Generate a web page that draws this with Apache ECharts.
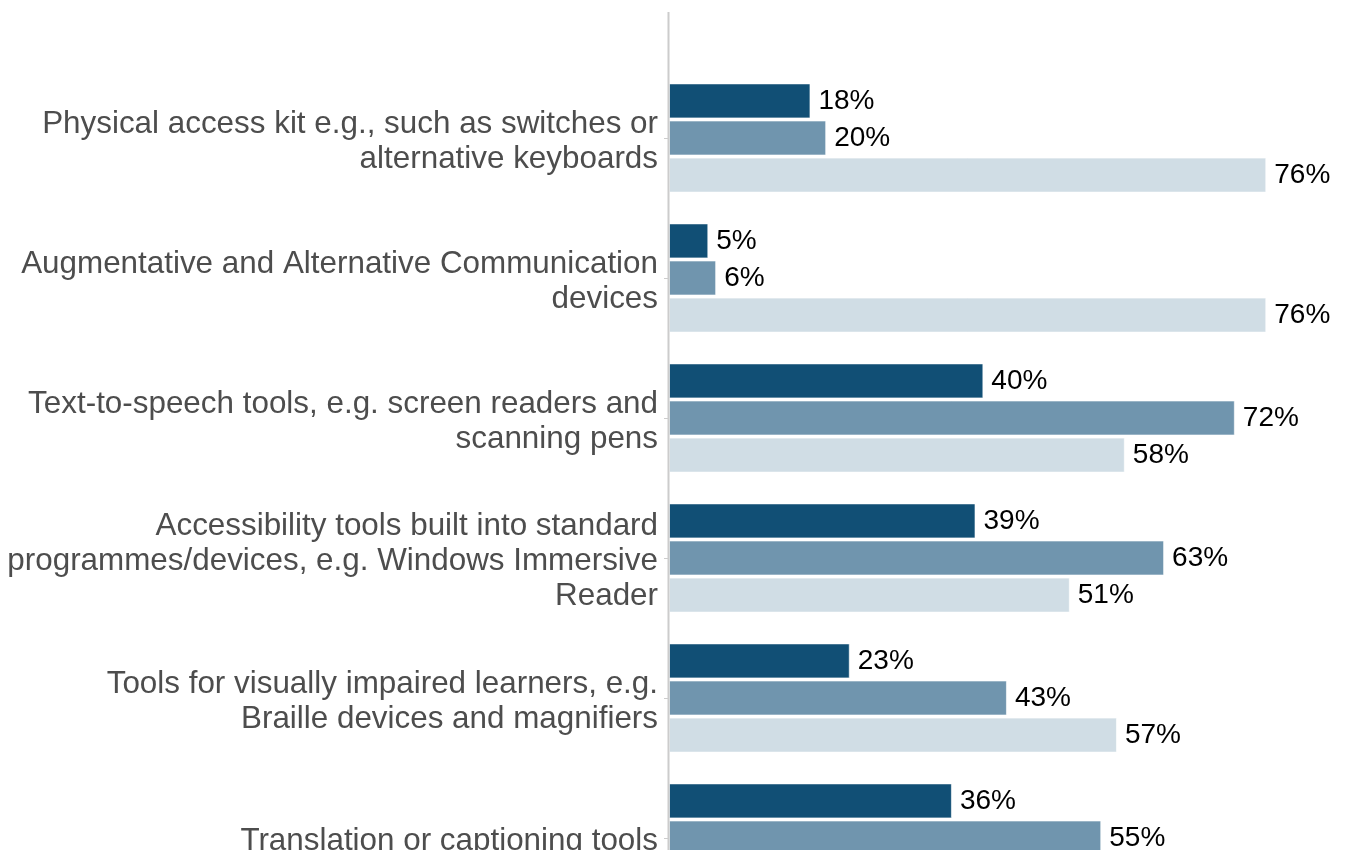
<!DOCTYPE html>
<html>
<head>
<meta charset="utf-8">
<script src="https://cdn.jsdelivr.net/npm/echarts@6/dist/echarts.min.js"></script>
<style>
  html, body { margin: 0; padding: 0; background: #ffffff; overflow: hidden; }
  #chart { width: 1345px; height: 920px; }
</style>
</head>
<body>
<div id="chart"></div>
<script>
// Assistive technology categories, top to bottom
const categories = [
  'Physical access kit e.g., such as switches or\nalternative keyboards',
  'Augmentative and Alternative Communication\ndevices',
  'Text-to-speech tools, e.g. screen readers and\nscanning pens',
  'Accessibility tools built into standard\nprogrammes/devices, e.g. Windows Immersive\nReader',
  'Tools for visually impaired learners, e.g.\nBraille devices and magnifiers',
  'Translation or captioning tools'
];

// Percentages for the three groups (dark, medium, light)
const seriesNames = ['Group 1', 'Group 2', 'Group 3'];
const valuesDark   = [18, 5, 40, 39, 23, 36];
const valuesMedium = [20, 6, 72, 63, 43, 55];
const valuesLight  = [76, 76, 58, 51, 57, null];

const colors = ['#114f75', '#7095ae', '#d0dde5'];

const chart = echarts.init(document.getElementById('chart'), null, { renderer: 'canvas' });

const GRID_LEFT = 669;
const GRID_TOP = 68;
const BAND = 140;
const FONT = 'Liberation Sans, Arial, sans-serif';

function makeSeries(name, data, color) {
  return {
    name: name,
    type: 'bar',
    data: data,
    barWidth: 35,
    barGap: '6%',
    itemStyle: { color: color, borderColor: 'rgba(255,255,255,0.6)', borderWidth: 1 },
    label: {
      show: true,
      position: 'right',
      distance: 8,
      formatter: p => p.value + '%',
      color: '#000000',
      fontFamily: FONT,
      fontSize: 28
    },
    silent: true
  };
}

chart.setOption({
  animation: false,
  backgroundColor: '#ffffff',
  grid: {
    left: GRID_LEFT,
    top: GRID_TOP,
    width: 668,
    height: BAND * categories.length
  },
  xAxis: {
    type: 'value',
    min: 0,
    max: 85,
    show: false
  },
  yAxis: {
    type: 'category',
    inverse: true,
    data: categories,
    axisLine: { show: false },
    axisTick: { show: true, alignWithLabel: true, length: 5, lineStyle: { color: '#cccccc', width: 1 } },
    axisLabel: {
      margin: 11,
      align: 'right',
      // a thin spacer line on top nudges the centred block slightly down
      formatter: v => '{s|}\n' + v.split('\n').map(l => '{t|' + l + '}').join('\n'),
      rich: {
        s: { lineHeight: 7, fontSize: 1 },
        t: { color: '#4d4d4d', fontFamily: FONT, fontSize: 31.4, lineHeight: 35 }
      }
    }
  },
  series: [
    makeSeries(seriesNames[0], valuesDark, colors[0]),
    makeSeries(seriesNames[1], valuesMedium, colors[1]),
    makeSeries(seriesNames[2], valuesLight, colors[2])
  ],
  graphic: [{
    type: 'line',
    shape: { x1: GRID_LEFT - 0.5, y1: 12, x2: GRID_LEFT - 0.5, y2: 920 },
    style: { stroke: '#cccccc', lineWidth: 2 },
    z: 10
  }]
});
</script>
</body>
</html>
